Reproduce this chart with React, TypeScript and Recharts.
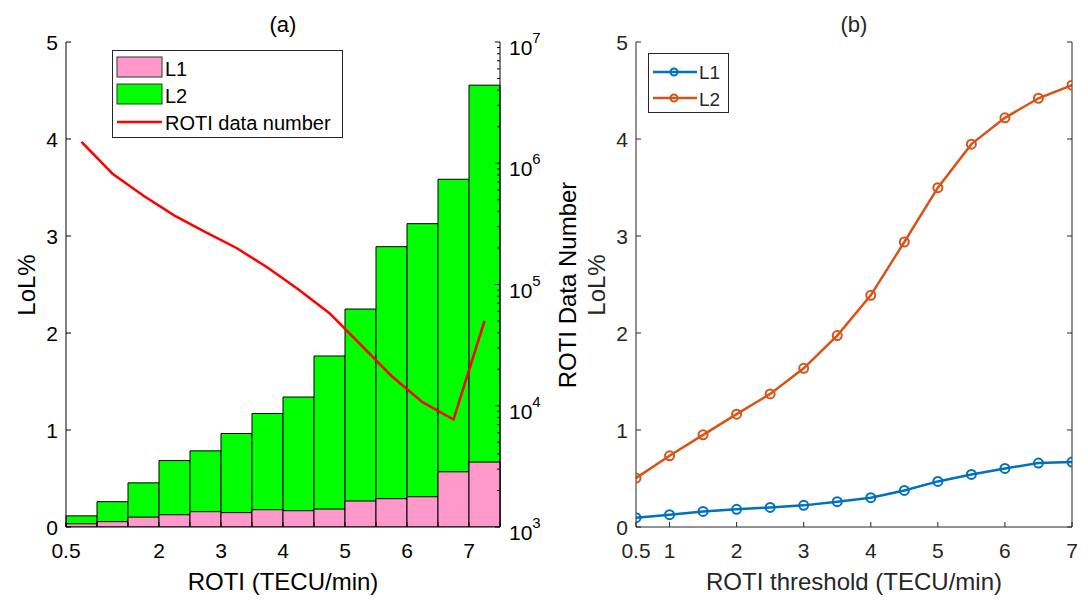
import React from "react";
import { ComposedChart, Bar, Line, XAxis, YAxis } from "recharts";

// panel (a): LoL% per ROTI bin and number of ROTI samples in each bin
const binCenters = [0.75, 1.25, 1.75, 2.25, 2.75, 3.25, 3.75, 4.25, 4.75, 5.25, 5.75, 6.25, 6.75, 7.25];
const l1BinLol = [0.033, 0.055, 0.102, 0.126, 0.158, 0.148, 0.178, 0.168, 0.185, 0.268, 0.292, 0.312, 0.569, 0.669];
const l2BinLol = [0.115, 0.261, 0.455, 0.685, 0.785, 0.964, 1.17, 1.34, 1.763, 2.247, 2.89, 3.127, 3.585, 4.555];
const rotiCount = [1.5e6, 8.2e5, 5.4e5, 3.7e5, 2.7e5, 2.0e5, 1.38e5, 9.1e4, 5.8e4, 3.2e4, 1.76e4, 1.07e4, 7.7e3, 5.0e4];

// panel (b): LoL% above each ROTI threshold
const thresholds = [0.5, 1, 1.5, 2, 2.5, 3, 3.5, 4, 4.5, 5, 5.5, 6, 6.5, 7];
const l1Lol = [0.096, 0.127, 0.161, 0.182, 0.202, 0.223, 0.261, 0.302, 0.377, 0.47, 0.542, 0.604, 0.659, 0.669];
const l2Lol = [0.504, 0.734, 0.95, 1.163, 1.372, 1.636, 1.973, 2.388, 2.938, 3.498, 3.947, 4.218, 4.42, 4.555];

// ticks
const binTicks = [0.5, 1, 1.5, 2, 2.5, 3, 3.5, 4, 4.5, 5, 5.5, 6, 6.5, 7, 7.5];
const binTickLabels = [0.5, 2, 3, 4, 5, 6, 7];
const lolTicks = [0, 1, 2, 3, 4, 5];
const countDecades = [1e3, 1e4, 1e5, 1e6, 1e7];
const countTicks = countDecades.flatMap((d, i) =>
  i === countDecades.length - 1 ? [d] : [1, 2, 3, 4, 5, 6, 7, 8, 9].map((m) => m * d)
);
const thresholdTicks = [0.5, 1, 2, 3, 4, 5, 6, 7];

const binRows = binCenters.map((x, i) => ({ x, l1: l1BinLol[i], l2: l2BinLol[i], count: rotiCount[i] }));
const thresholdRows = thresholds.map((t, i) => ({ t, l1: l1Lol[i], l2: l2Lol[i] }));

const FONT = '"Liberation Sans", Arial, Helvetica, sans-serif';
const PINK = "#FF99CC";
const GREEN = "#00FF00";
const RED = "#FF0000";
const BLUE = "#0072BD";
const ORANGE = "#D95319";
const INK_A = "#000000";
const INK_B = "#262626";

// MATLAB-style ticks: pointing into the plot, labels outside
const bottomTick = (labels: number[] | null, color: string) => (p: any) => {
  const { x, y, payload } = p;
  const v = payload.value;
  const show = labels ? labels.includes(v) : true;
  return (
    <g>
      <line x1={x} y1={y} x2={x} y2={y - 5} stroke={color} />
      {show && (
        <text x={x} y={y + 31} textAnchor="middle" fill={color} fontSize={21} fontFamily={FONT}>
          {v}
        </text>
      )}
    </g>
  );
};

const topTick = (color: string) => (p: any) => (
  <line x1={p.x} y1={p.y} x2={p.x} y2={p.y + 5} stroke={color} />
);

const leftTick = (color: string) => (p: any) => {
  const { x, y, payload } = p;
  return (
    <g>
      <line x1={x} y1={y} x2={x + 5} y2={y} stroke={color} />
      <text x={x - 8} y={y + 8} textAnchor="end" fill={color} fontSize={21} fontFamily={FONT}>
        {payload.value}
      </text>
    </g>
  );
};

const rightPlainTick = (color: string) => (p: any) => (
  <line x1={p.x} y1={p.y} x2={p.x - 5} y2={p.y} stroke={color} />
);

const logTick = (color: string) => (p: any) => {
  const { x, y, payload } = p;
  const exp = Math.log10(payload.value);
  const major = Math.abs(exp - Math.round(exp)) < 1e-9;
  if (!major) return <line x1={x} y1={y} x2={x - 3} y2={y} stroke={color} />;
  return (
    <g>
      <line x1={x} y1={y} x2={x - 5} y2={y} stroke={color} />
      <text x={x + 9} y={y + 13} fill={color} fontSize={21} fontFamily={FONT}>
        <tspan>10</tspan>
        <tspan dy={-12} fontSize={15}>
          {Math.round(exp)}
        </tspan>
      </text>
    </g>
  );
};

function PanelA() {
  return (
    <ComposedChart
      width={560}
      height={600}
      data={binRows}
      margin={{ top: 42, right: 0, bottom: 0, left: 10 }}
      barGap={0}
      barCategoryGap={0}
    >
      {/* visible numeric axes (bin edges) */}
      <XAxis
        xAxisId="a"
        dataKey="x"
        type="number"
        domain={[0.5, 7.5]}
        ticks={binTicks}
        interval={0}
        height={73}
        tickSize={0}
        tickMargin={0}
        tick={bottomTick(binTickLabels, INK_A)}
        axisLine={{ stroke: INK_A }}
        allowDataOverflow
      />
      <XAxis
        xAxisId="top"
        orientation="top"
        dataKey="x"
        type="number"
        domain={[0.5, 7.5]}
        ticks={binTicks}
        interval={0}
        height={0}
        tickSize={0}
        tickMargin={0}
        tick={topTick(INK_A)}
        axisLine={{ stroke: INK_A }}
        allowDataOverflow
      />
      {/* hidden band axes, one per overlaid bar series */}
      <XAxis xAxisId="binL2" dataKey="x" type="category" hide />
      <XAxis xAxisId="binL1" dataKey="x" type="category" hide />
      <YAxis
        yAxisId="l"
        type="number"
        domain={[0, 5]}
        ticks={lolTicks}
        interval={0}
        width={56}
        tickSize={0}
        tickMargin={0}
        tick={leftTick(INK_A)}
        axisLine={{ stroke: INK_A }}
        allowDataOverflow
      />
      <YAxis
        yAxisId="r"
        orientation="right"
        type="number"
        scale="log"
        domain={[1e3, 1e7]}
        ticks={countTicks}
        interval={0}
        width={60}
        tickSize={0}
        tickMargin={0}
        tick={logTick(INK_A)}
        axisLine={{ stroke: INK_A }}
        allowDataOverflow
      />
      <Bar xAxisId="binL2" yAxisId="l" dataKey="l2" fill={GREEN} stroke="#000" strokeWidth={1} isAnimationActive={false} />
      <Bar xAxisId="binL1" yAxisId="l" dataKey="l1" fill={PINK} stroke="#000" strokeWidth={1} isAnimationActive={false} />
      <Line xAxisId="binL2" yAxisId="r" dataKey="count" stroke={RED} strokeWidth={2.5} dot={false} type="linear" isAnimationActive={false} />
    </ComposedChart>
  );
}

function PanelB() {
  return (
    <ComposedChart width={528} height={600} data={thresholdRows} margin={{ top: 42, right: 0, bottom: 0, left: 20 }}>
      <XAxis
        xAxisId="a"
        dataKey="t"
        type="number"
        domain={[0.5, 7]}
        ticks={thresholdTicks}
        interval={0}
        height={73}
        tickSize={0}
        tickMargin={0}
        tick={bottomTick(null, INK_B)}
        axisLine={{ stroke: INK_B }}
        allowDataOverflow
      />
      <XAxis
        xAxisId="top"
        orientation="top"
        dataKey="t"
        type="number"
        domain={[0.5, 7]}
        ticks={thresholdTicks}
        interval={0}
        height={0}
        tickSize={0}
        tickMargin={0}
        tick={topTick(INK_B)}
        axisLine={{ stroke: INK_B }}
        allowDataOverflow
      />
      <YAxis
        yAxisId="l"
        type="number"
        domain={[0, 5]}
        ticks={lolTicks}
        interval={0}
        width={56}
        tickSize={0}
        tickMargin={0}
        tick={leftTick(INK_B)}
        axisLine={{ stroke: INK_B }}
        allowDataOverflow
      />
      <YAxis
        yAxisId="r"
        orientation="right"
        type="number"
        domain={[0, 5]}
        ticks={lolTicks}
        interval={0}
        width={16}
        tickSize={0}
        tickMargin={0}
        tick={rightPlainTick(INK_B)}
        axisLine={{ stroke: INK_B }}
        allowDataOverflow
      />
      <Line
        xAxisId="a"
        yAxisId="l"
        dataKey="l1"
        stroke={BLUE}
        strokeWidth={2.5}
        dot={{ r: 4.5, stroke: BLUE, strokeWidth: 2, fill: "none" }}
        type="linear"
        isAnimationActive={false}
      />
      <Line
        xAxisId="a"
        yAxisId="l"
        dataKey="l2"
        stroke={ORANGE}
        strokeWidth={2.5}
        dot={{ r: 4.5, stroke: ORANGE, strokeWidth: 2, fill: "none" }}
        type="linear"
        isAnimationActive={false}
      />
    </ComposedChart>
  );
}

function Overlay() {
  const t = { fontFamily: FONT } as const;
  return (
    <svg width={1088} height={600} style={{ position: "absolute", left: 0, top: 0, pointerEvents: "none" }}>
      <g style={t}>
        <text x={283} y={32} textAnchor="middle" fontSize={22} fill={INK_A}>(a)</text>
        <text x={854} y={32} textAnchor="middle" fontSize={22} fill={INK_B}>(b)</text>
        <text x={283} y={590} textAnchor="middle" fontSize={24} fill={INK_A}>ROTI (TECU/min)</text>
        <text x={854} y={590} textAnchor="middle" fontSize={24} fill={INK_B}>ROTI threshold (TECU/min)</text>
        <text x={35} y={285} textAnchor="middle" fontSize={24} fill={INK_A} transform="rotate(-90 35 285)">LoL%</text>
        <text x={576} y={285} textAnchor="middle" fontSize={24} fill={INK_A} transform="rotate(-90 576 285)">ROTI Data Number</text>
        <text x={605} y={285} textAnchor="middle" fontSize={24} fill={INK_B} transform="rotate(-90 605 285)">LoL%</text>
      </g>

      {/* legend (a) */}
      <g transform="translate(112,50)" style={t}>
        <rect x={0.5} y={0.5} width={230} height={87} fill="#fff" stroke={INK_B} />
        <rect x={5} y={7} width={45} height={20} fill={PINK} stroke="#333" />
        <rect x={5} y={34} width={45} height={20} fill={GREEN} stroke="#333" />
        <line x1={5} x2={50} y1={72} y2={72} stroke={RED} strokeWidth={2.5} />
        <text x={53} y={26} fontSize={20} fill={INK_A}>L1</text>
        <text x={53} y={53} fontSize={20} fill={INK_A}>L2</text>
        <text x={53} y={80} fontSize={20} fill={INK_A}>ROTI data number</text>
      </g>

      {/* legend (b) */}
      <g transform="translate(648,53)" style={t}>
        <rect x={0.5} y={0.5} width={80} height={59} fill="#fff" stroke={INK_B} />
        <line x1={5} x2={49} y1={19} y2={19} stroke={BLUE} strokeWidth={2.5} />
        <circle cx={26} cy={19} r={3.5} fill="none" stroke={BLUE} strokeWidth={2} />
        <line x1={5} x2={49} y1={45} y2={45} stroke={ORANGE} strokeWidth={2.5} />
        <circle cx={26} cy={45} r={3.5} fill="none" stroke={ORANGE} strokeWidth={2} />
        <text x={51} y={26} fontSize={19} fill={INK_B}>L1</text>
        <text x={51} y={53} fontSize={19} fill={INK_B}>L2</text>
      </g>
    </svg>
  );
}

export default function App() {
  return (
    <div style={{ position: "absolute", left: 0, top: 0, width: 1088, height: 600, background: "#fff", fontFamily: FONT }}>
      <div style={{ position: "absolute", left: 0, top: 0 }}>
        <PanelA />
      </div>
      <div style={{ position: "absolute", left: 560, top: 0 }}>
        <PanelB />
      </div>
      <Overlay />
    </div>
  );
}
